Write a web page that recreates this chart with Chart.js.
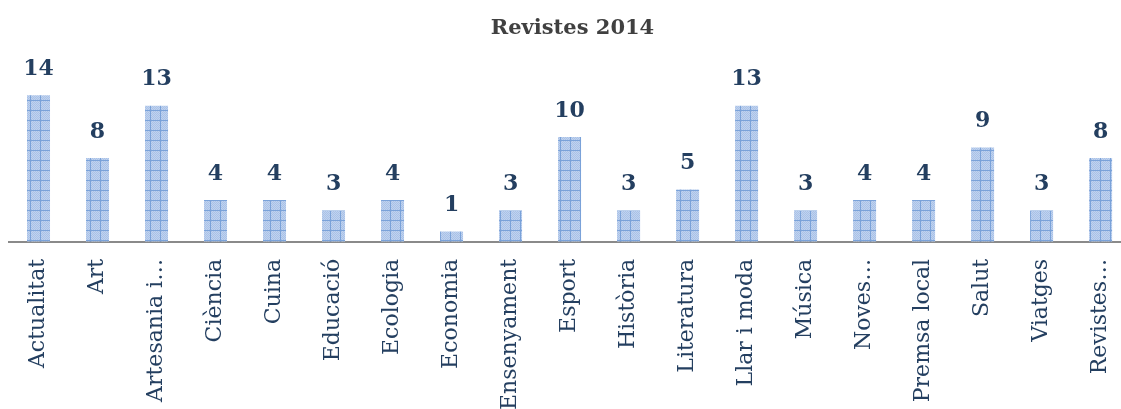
<!DOCTYPE html>
<html>
<head>
<meta charset="utf-8">
<script src="https://cdn.jsdelivr.net/npm/chart.js@4/dist/chart.umd.min.js"></script>
<style>
  html, body { margin: 0; padding: 0; background: #fff; overflow: hidden; }
  #wrap { width: 1136px; height: 419px; position: relative; }
</style>
</head>
<body>
<div id="wrap"><canvas id="chart"></canvas></div>
<script>
const categories = ['Actualitat', 'Art', 'Artesania i…', 'Ciència', 'Cuina', 'Educació', 'Ecologia',
  'Economia', 'Ensenyament', 'Esport', 'Història', 'Literatura', 'Llar i moda', 'Música',
  'Noves…', 'Premsa local', 'Salut', 'Viatges', 'Revistes…'];
const counts = [14, 8, 13, 4, 4, 3, 4, 1, 3, 10, 3, 5, 13, 3, 4, 4, 9, 3, 8];

// small hatched grid fill like the office "plaid" pattern
const makePattern = () => {
  const c = document.createElement('canvas');
  c.width = 10; c.height = 10;
  const g = c.getContext('2d');
  g.fillStyle = '#c0d3ef';
  g.fillRect(0, 0, 10, 10);
  g.fillStyle = '#a9c1e7';
  for (let y = 0; y < 10; y++) {
    for (let x = (y % 2); x < 10; x += 2) g.fillRect(x, y, 1, 1);
  }
  g.fillStyle = '#7aa2d9';
  g.fillRect(0, 0, 10, 1);
  g.fillRect(0, 0, 1, 10);
  return g.createPattern(c, 'repeat');
};

const valueLabels = {
  id: 'valueLabels',
  afterDatasetsDraw(chart) {
    const ctx = chart.ctx;
    const meta = chart.getDatasetMeta(0);
    ctx.save();
    ctx.font = 'bold 22px "DejaVu Serif"';
    ctx.fillStyle = '#243f60';
    ctx.textAlign = 'center';
    ctx.textBaseline = 'bottom';
    meta.data.forEach((bar, i) => {
      ctx.fillText(counts[i], bar.x, bar.y - 15);
    });
    ctx.restore();
  }
};

new Chart(document.getElementById('chart'), {
  type: 'bar',
  data: {
    labels: categories,
    datasets: [{
      data: counts,
      backgroundColor: makePattern(),
      borderWidth: 0,
      barPercentage: 0.39,
      categoryPercentage: 1
    }]
  },
  options: {
    responsive: true,
    maintainAspectRatio: false,
    animation: false,
    layout: { padding: { left: 9, right: 0, top: 0, bottom: 0 } },
    plugins: {
      legend: { display: false },
      tooltip: { enabled: false },
      title: {
        display: true,
        text: 'Revistes 2014',
        color: '#404040',
        font: { family: 'DejaVu Serif', size: 21, weight: 'bold' },
        padding: { top: 16, bottom: 33 }
      }
    },
    scales: {
      x: {
        grid: { display: false },
        border: { display: true, color: '#8a8a8a', width: 2 },
        ticks: {
          autoSkip: false,
          minRotation: 90,
          maxRotation: 90,
          padding: 9,
          color: '#243f60',
          font: { family: 'DejaVu Serif', size: 22 }
        }
      },
      y: {
        display: false,
        min: 0,
        max: 16
      }
    }
  },
  plugins: [valueLabels]
});
</script>
</body>
</html>
